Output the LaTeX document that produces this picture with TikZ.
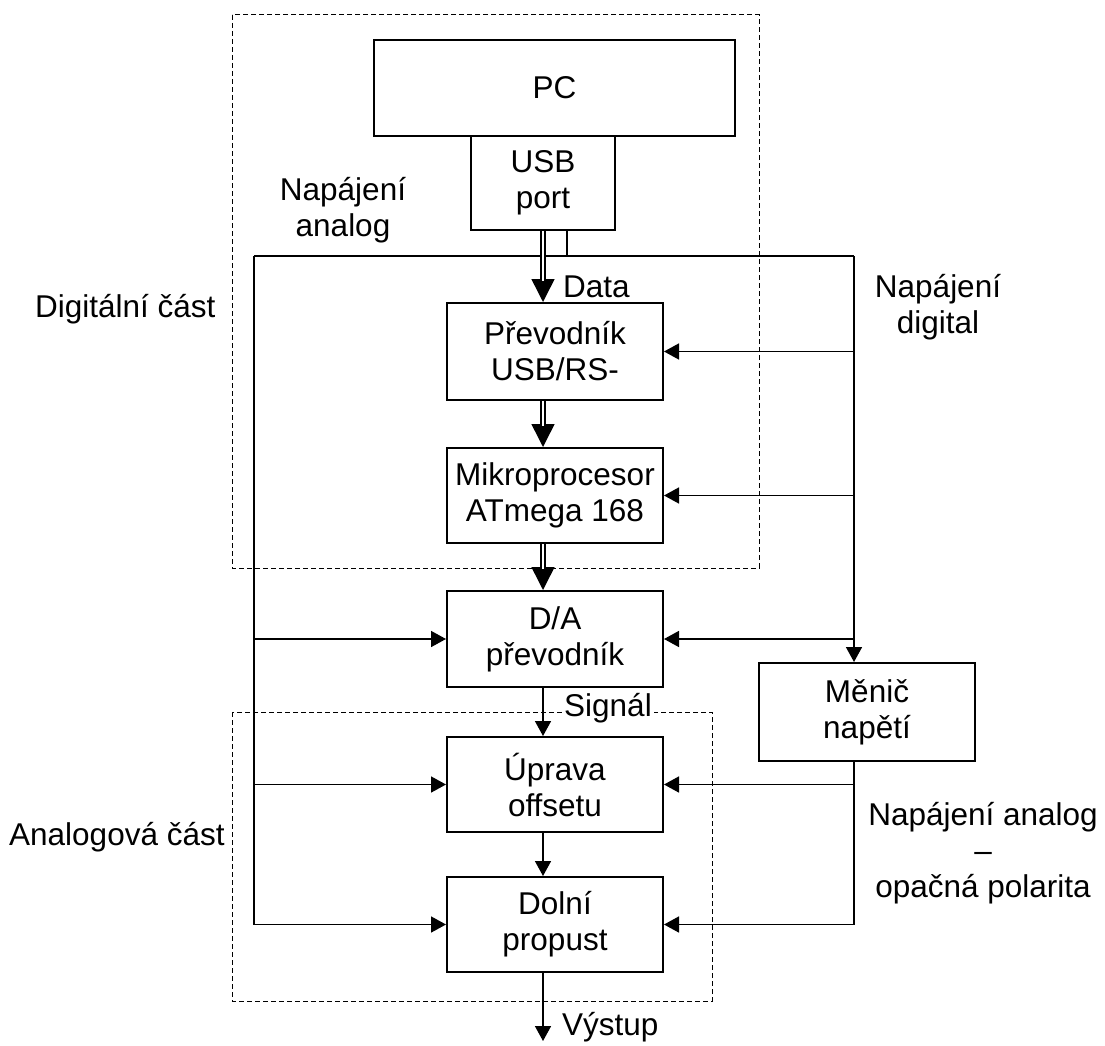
\documentclass[tikz,border=0pt]{standalone}
\usepackage{fontspec}
\setmainfont{Liberation Sans}
\usetikzlibrary{arrows.meta,calc}
\begin{document}
\begin{tikzpicture}[x=1pt,y=-1pt,
  every node/.style={font=\fontsize{31.5}{36}\selectfont, align=center, inner sep=0pt},
  block/.style={draw, line width=2pt},
  wire/.style={line width=1.6pt},
  arr/.style={wire, -{Triangle[length=15pt,width=16pt]}},
  bigarr/.style={line width=1.5pt, -{Triangle[length=23pt,width=23pt]}},
  dblwire/.style={line width=1.8pt, double=white, double distance=2.8pt, shorten >=21pt},
  region/.style={line width=1pt, dash pattern=on 5pt off 3pt},
  lbl/.style={anchor=base}
]
\useasboundingbox (0,0) rectangle (1105,1046);

% regions
\draw[region] (232,15) rectangle (759,568);
\draw[region] (232,712) rectangle (712,1001);

% blocks
\node[block, minimum width=361, minimum height=96] (pc) at (554.5,88) {PC};
\node[block, minimum width=144, minimum height=94] (usb) at (543,183) {USB\\port};
\node[block, minimum width=216, minimum height=97] (prev) at (555,351.5) {Převodník\\USB/RS-};
\node[block, minimum width=216, minimum height=95] (mik) at (555,495.5) {Mikroprocesor\\ATmega 168};
\node[block, minimum width=216, minimum height=96] (da) at (555,639) {D/A\\převodník};
\node[block, minimum width=216, minimum height=95] (upr) at (555,784.5) {Úprava\\offsetu};
\node[block, minimum width=216, minimum height=95] (dol) at (555,924.5) {Dolní\\propust};
\node[block, minimum width=216, minimum height=98] (men) at (867,712) {Měnič\\napětí};

% supply rails
\coordinate (tl) at (254,256);
\coordinate (tr) at (854,256);
\coordinate (tap) at (567,256);
\coordinate (out) at (543,1041);

\draw[wire] (tap |- usb.south) -- (tap);
\draw[wire] (tl) -- (tr);
\draw[wire] (tl) -- (tl |- dol.west);
\draw[arr] (tr) -- (tr |- men.north);
\draw[wire] (tr |- men.south) -- (tr |- dol.east);

% digital supply branches
\draw[arr] (tr |- prev.east) -- (prev.east);
\draw[arr] (tr |- mik.east) -- (mik.east);
\draw[arr] (tr |- da.east) -- (da.east);

% analog supply branches
\draw[arr] (tl |- da.west) -- (da.west);
\draw[arr] (tl |- upr.west) -- (upr.west);
\draw[arr] (tl |- dol.west) -- (dol.west);
\draw[arr] (tr |- upr.east) -- (upr.east);
\draw[arr] (tr |- dol.east) -- (dol.east);

% data path
\draw[bigarr] (usb.south) -- (usb.south |- prev.north);
\draw[dblwire] (usb.south) -- (usb.south |- prev.north);
\draw[bigarr] (usb.south |- prev.south) -- (usb.south |- mik.north);
\draw[dblwire] (usb.south |- prev.south) -- (usb.south |- mik.north);
\draw[bigarr] (usb.south |- mik.south) -- (usb.south |- da.north);
\draw[dblwire] (usb.south |- mik.south) -- (usb.south |- da.north);

% signal path
\draw[arr] (usb.south |- da.south) -- (usb.south |- upr.north);
\draw[arr] (usb.south |- upr.south) -- (usb.south |- dol.north);
\draw[arr] (usb.south |- dol.south) -- (out);

% labels (base = baseline of the last line)
\node[lbl] (lna) at (343,236) {Napájení\\analog};
\node[lbl, anchor=base west] (ldata) at (563,297) {Data};
\node[lbl] (lnd) at (938,333) {Napájení\\digital};
\node[lbl, anchor=base west] (ldig) at (35,317) {Digitální část};
\node[lbl, anchor=base west] (lana) at (9,845) {Analogová část};
\node[lbl] (lnao) at (983,897) {Napájení analog\\–\\opačná polarita};
\node[anchor=base west, fill=white, inner xsep=2pt, inner ysep=1pt] (lsig) at (562,716) {Signál};
\node[lbl, anchor=base west] (lout) at (562,1035) {Výstup};
\end{tikzpicture}
\end{document}
